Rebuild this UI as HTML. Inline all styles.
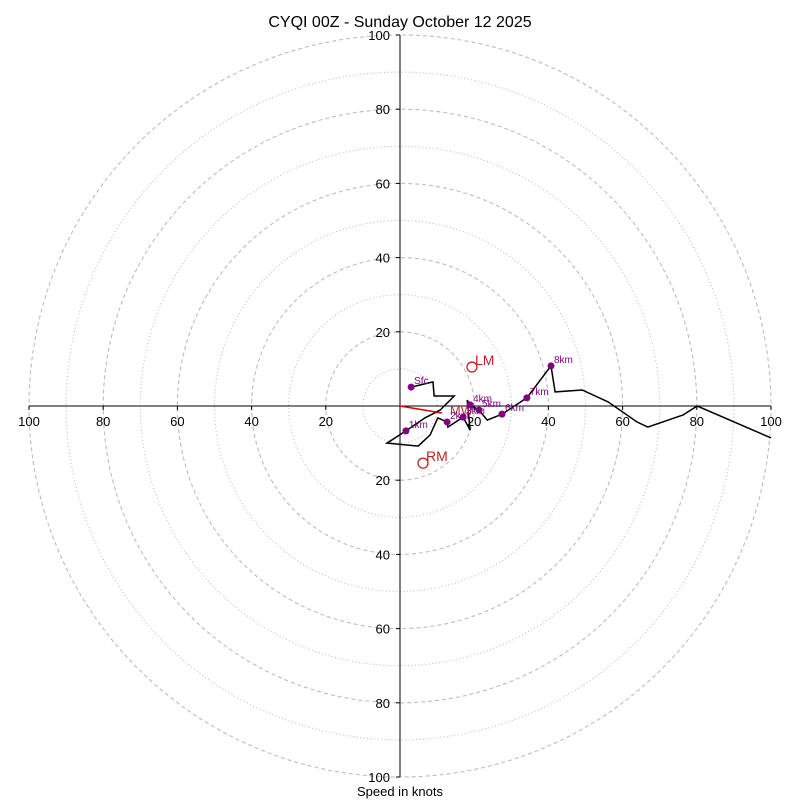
<!DOCTYPE html>
<html><head><meta charset="utf-8"><style>
html,body{margin:0;padding:0;background:#fff;}
svg{display:block;font-family:"Liberation Sans","DejaVu Sans",sans-serif;}
</style></head><body>
<svg id="chart" width="800" height="800" viewBox="0 0 800 800">
<text x="400" y="27" text-anchor="middle" font-size="16">CYQI 00Z - Sunday October 12 2025</text>
<text x="400" y="796" text-anchor="middle" font-size="13">Speed in knots</text>
<g id="rings"></g><g id="axes"></g><g id="plot"></g>
</svg>
<script>
const ringValues=[10,20,30,40,50,60,70,80,90,100];
const tickValues=[20,40,60,80,100];
const uWind=[3.0,8.9,9.2,14.6,10.8,6.7,1.6,-3.5,4.9,8.1,10.2,12.7,12.9,17.0,18.9,18.1,18.9,21.3,23.5,27.5,34.2,40.7,41.8,49.1,56.1,63.9,66.8,76.3,80.1,100];
const vWind=[5.1,6.5,2.7,2.7,-1.1,-3.2,-6.7,-10.0,-10.8,-7.8,-3.2,-4.3,-5.7,-3.0,-6.5,1.6,0.3,-1.1,-3.8,-2.2,2.2,10.8,3.8,4.3,1.1,-4.3,-5.7,-2.4,0,-8.6];
const heightLabels=["Sfc","1km","2km","3km","4km","5km","6km","7km","8km"];
const heightIndex=[0,6,11,13,16,17,19,20,21];
const mwVec=[11.3,-1.9];
const lmVec=[19.4,10.5];
const rmVec=[6.2,-15.4];

const CX=400,CY=406,K=3.71;
const sx=u=>CX+u*K, sy=v=>CY-v*K;
const NS="http://www.w3.org/2000/svg";
function mk(tag,attrs,parent){const e=document.createElementNS(NS,tag);for(const k in attrs)e.setAttribute(k,attrs[k]);parent.appendChild(e);return e;}
const rings=document.getElementById('rings'),axes=document.getElementById('axes'),plot=document.getElementById('plot');

ringValues.forEach(r=>{
  const c=mk('circle',{cx:CX,cy:CY,r:r*K,fill:'none',stroke:'#bdbdbd','stroke-width':1.1,'stroke-dasharray':r%20===0?'4,3':'1,2.5'},rings);
  
  
});
let l=mk('line',{x1:sx(-100),y1:CY,x2:sx(100),y2:CY,stroke:'#000','stroke-width':1},axes);


l=mk('line',{x1:CX,y1:sy(100),x2:CX,y2:sy(-100),stroke:'#000','stroke-width':1},axes);


tickValues.forEach(t=>{
  [-1,1].forEach(s=>{
    mk('line',{x1:sx(s*t),y1:CY,x2:sx(s*t),y2:CY+4,stroke:'#000'},axes);
    const tx=mk('text',{x:sx(s*t),y:CY+20,'text-anchor':'middle','font-size':13},axes);
    tx.textContent=t;
    
    
    mk('line',{x1:CX-4,y1:sy(s*t),x2:CX,y2:sy(s*t),stroke:'#000'},axes);
    const ty=mk('text',{x:CX-10,y:sy(s*t)+5,'text-anchor':'end','font-size':13},axes);
    ty.textContent=t;
    
    
  });
});
const pts=uWind.map((u,i)=>sx(u).toFixed(1)+','+sy(vWind[i]).toFixed(1)).join(' ');
const pl=mk('polyline',{points:pts,fill:'none',stroke:'#000','stroke-width':1.5,'stroke-linejoin':'miter'},plot);


// mean wind
const mw=mk('line',{x1:CX,y1:CY,x2:sx(mwVec[0]),y2:sy(mwVec[1]),stroke:'#e00000','stroke-width':1.5},plot);


const mwt=mk('text',{x:sx(mwVec[0])+8,y:sy(mwVec[1])+2,'font-size':13,fill:'#c03030'},plot);
mwt.textContent='MW';


heightIndex.forEach((idx,j)=>{
  const c=mk('circle',{cx:sx(uWind[idx]),cy:sy(vWind[idx]),r:3.5,fill:'#800080'},plot);
  
  
  const t=mk('text',{x:sx(uWind[idx])+3,y:sy(vWind[idx])-3,'font-size':10,fill:'#800080'},plot);
  t.textContent=heightLabels[j];
  
  
});
[[lmVec,'LM'],[rmVec,'RM']].forEach(([v,n])=>{
  const c=mk('circle',{cx:sx(v[0]),cy:sy(v[1]),r:5,fill:'none',stroke:'#c82020','stroke-width':1.3},plot);
  
  
  const t=mk('text',{x:sx(v[0])+3,y:sy(v[1])-2,'font-size':14,fill:'#c82020'},plot);
  t.textContent=n;
  
  
});
</script>
</body></html>
